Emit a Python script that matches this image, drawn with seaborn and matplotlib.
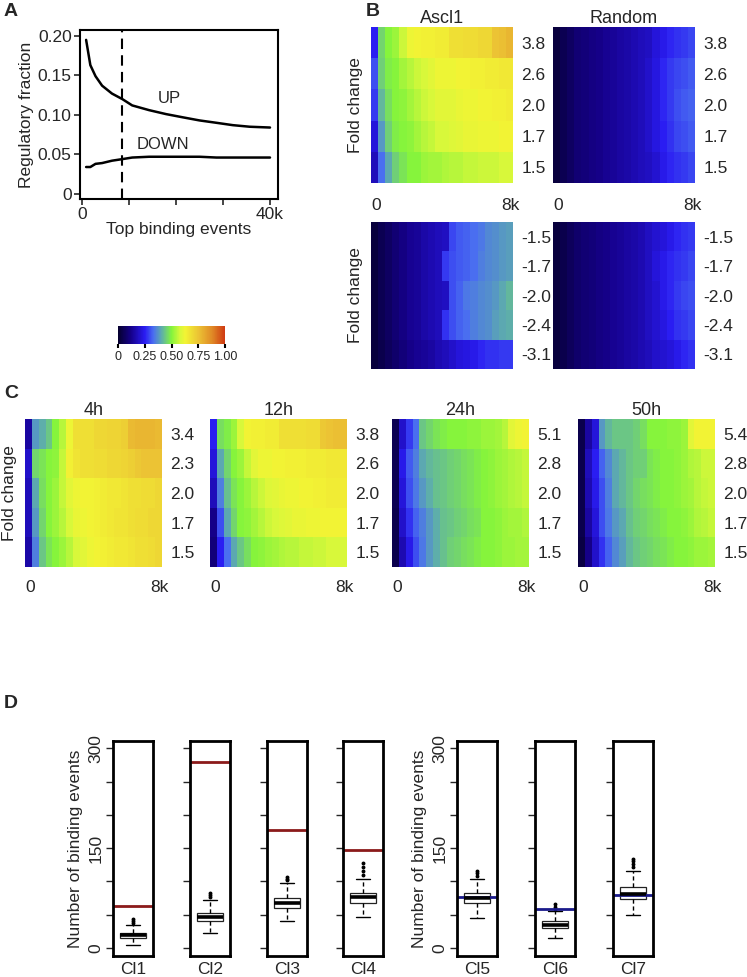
import numpy as np
import matplotlib
matplotlib.use('Agg')
import matplotlib.pyplot as plt
import seaborn as sns
from matplotlib.colors import LinearSegmentedColormap, Normalize

sns.set_style('white')
plt.rcParams['font.family'] = ['Liberation Sans', 'DejaVu Sans']

# ---------------- data ----------------
# panel A: regulatory fraction vs number of top binding events (k)
TOP_K = [0.9, 1.8, 2.9, 4.3, 6.4, 8.6, 10.7, 14.3, 17.9, 21.4, 25.0, 28.6, 32.1, 35.7, 40.0]
UP_FRAC = [0.195, 0.163, 0.149, 0.137, 0.127, 0.120, 0.112, 0.106, 0.101, 0.097,
           0.093, 0.090, 0.087, 0.085, 0.084]
DOWN_FRAC = [0.034, 0.034, 0.038, 0.039, 0.042, 0.044, 0.046, 0.047, 0.047, 0.047,
             0.047, 0.046, 0.046, 0.046, 0.046]
CUTOFF_K = 8.5

# panel B heatmaps (rows = fold-change bins, cols = top 0..8k binding events)
UP_ROWS = ['3.8', '2.6', '2.0', '1.7', '1.5']
DOWN_ROWS = ['-1.5', '-1.7', '-2.0', '-2.4', '-3.1']
ASCL1_UP = [
    [.25, .46, .50, .52, .57, .62, .63, .64, .64, .65, .65, .68, .68, .69, .69, .70, .70, .75, .76, .78],
    [.30, .45, .49, .50, .53, .55, .57, .58, .60, .62, .62, .62, .63, .63, .64, .64, .65, .65, .66, .66],
    [.28, .42, .47, .50, .51, .53, .55, .57, .58, .60, .60, .60, .61, .62, .62, .63, .63, .64, .64, .65],
    [.22, .38, .45, .49, .50, .51, .53, .55, .56, .58, .58, .59, .60, .61, .61, .62, .62, .62, .63, .63],
    [.18, .33, .40, .45, .48, .50, .50, .52, .53, .53, .54, .55, .55, .56, .56, .57, .57, .57, .58, .58],
]
RANDOM_UP = [
    [.02, .05, .07, .09, .10, .11, .12, .13, .14, .15, .16, .17, .18, .19, .22, .24, .26, .27, .28, .29],
    [.02, .05, .07, .09, .10, .11, .12, .13, .14, .15, .16, .17, .18, .20, .23, .26, .28, .29, .30, .31],
    [.02, .05, .07, .09, .10, .11, .12, .13, .14, .15, .16, .17, .18, .20, .23, .26, .28, .30, .31, .32],
    [.02, .05, .07, .09, .10, .11, .12, .13, .14, .15, .16, .17, .18, .20, .23, .25, .27, .29, .30, .31],
    [.02, .05, .07, .09, .10, .11, .12, .13, .14, .15, .16, .17, .18, .19, .21, .24, .26, .27, .28, .29],
]
ASCL1_DOWN = [
    [.02, .05, .07, .09, .11, .13, .14, .16, .17, .18, .19, .29, .31, .32, .33, .34, .36, .37, .38, .39],
    [.02, .05, .07, .09, .11, .13, .14, .16, .17, .18, .28, .30, .31, .32, .33, .35, .36, .37, .38, .39],
    [.02, .05, .07, .09, .11, .13, .14, .16, .17, .18, .19, .30, .32, .34, .35, .36, .37, .38, .40, .42],
    [.02, .05, .07, .09, .11, .13, .14, .16, .17, .18, .27, .30, .32, .33, .35, .36, .37, .39, .40, .41],
    [.02, .04, .06, .08, .10, .12, .13, .14, .15, .17, .18, .20, .22, .23, .24, .26, .27, .27, .28, .28],
]
RANDOM_DOWN = [
    [.02, .04, .06, .08, .09, .10, .11, .12, .13, .14, .15, .16, .17, .19, .21, .22, .24, .26, .27, .28],
    [.02, .04, .06, .08, .09, .10, .11, .12, .13, .14, .15, .16, .17, .19, .22, .24, .26, .27, .28, .29],
    [.02, .04, .06, .08, .09, .10, .11, .12, .13, .14, .15, .16, .17, .19, .21, .24, .26, .28, .29, .30],
    [.02, .04, .06, .08, .09, .10, .11, .12, .13, .14, .15, .16, .17, .19, .21, .23, .25, .27, .28, .29],
    [.02, .04, .06, .08, .09, .10, .11, .12, .13, .14, .15, .16, .17, .18, .20, .21, .22, .24, .26, .27],
]

# panel C: time course
TIMES = ['4h', '12h', '24h', '50h']
TIME_ROWS = [
    ['3.4', '2.3', '2.0', '1.7', '1.5'],
    ['3.8', '2.6', '2.0', '1.7', '1.5'],
    ['5.1', '2.8', '2.0', '1.7', '1.5'],
    ['5.4', '2.8', '2.0', '1.7', '1.5'],
]
H4 = [
    [.15, .38, .41, .44, .50, .55, .62, .68, .68, .68, .70, .70, .71, .71, .72, .77, .78, .78, .78, .77],
    [.20, .46, .48, .50, .51, .56, .64, .67, .68, .68, .69, .69, .70, .70, .71, .72, .74, .75, .75, .75],
    [.18, .40, .47, .50, .52, .56, .60, .62, .63, .63, .64, .65, .66, .66, .67, .68, .68, .69, .69, .70],
    [.18, .38, .46, .50, .52, .55, .58, .61, .62, .63, .64, .65, .66, .67, .67, .68, .69, .69, .70, .70],
    [.16, .35, .44, .48, .50, .52, .55, .58, .60, .62, .63, .64, .65, .66, .66, .67, .68, .68, .69, .70],
]
H12 = [
    [.25, .47, .49, .52, .58, .63, .64, .64, .65, .65, .68, .68, .68, .68, .69, .69, .74, .75, .76, .76],
    [.22, .40, .46, .50, .52, .56, .60, .62, .62, .63, .63, .64, .64, .64, .65, .65, .65, .66, .66, .66],
    [.18, .35, .43, .48, .50, .52, .55, .57, .59, .60, .61, .62, .62, .63, .63, .64, .64, .65, .65, .65],
    [.12, .30, .40, .46, .50, .51, .53, .55, .57, .58, .59, .60, .61, .61, .62, .62, .63, .63, .63, .63],
    [.10, .25, .33, .40, .44, .47, .50, .51, .52, .53, .54, .55, .55, .56, .56, .57, .57, .58, .58, .58],
]
H24 = [
    [.05, .20, .28, .33, .44, .46, .48, .49, .50, .50, .50, .51, .51, .52, .52, .53, .55, .60, .62, .63],
    [.05, .24, .31, .35, .40, .42, .43, .44, .45, .46, .47, .48, .49, .50, .51, .52, .53, .54, .55, .56],
    [.05, .22, .30, .34, .38, .41, .43, .44, .45, .46, .47, .48, .49, .50, .51, .52, .53, .54, .55, .56],
    [.04, .20, .27, .32, .35, .38, .41, .43, .44, .45, .46, .47, .48, .50, .50, .51, .52, .53, .53, .54],
    [.04, .17, .24, .30, .34, .38, .41, .43, .45, .46, .47, .48, .49, .50, .50, .51, .52, .52, .53, .53],
]
H50 = [
    [.04, .15, .22, .38, .42, .44, .44, .44, .45, .47, .50, .50, .50, .51, .51, .52, .60, .63, .63, .63],
    [.04, .18, .25, .32, .36, .40, .42, .44, .45, .45, .48, .49, .50, .50, .51, .52, .54, .55, .57, .57],
    [.04, .17, .24, .30, .35, .40, .42, .44, .46, .47, .48, .49, .50, .50, .51, .52, .53, .55, .56, .57],
    [.04, .15, .22, .30, .34, .38, .40, .43, .45, .46, .47, .48, .49, .50, .50, .51, .52, .54, .55, .56],
    [.03, .12, .20, .27, .32, .36, .39, .42, .44, .45, .46, .47, .48, .49, .50, .50, .51, .52, .52, .53],
]

# panel D: random-set counts per cluster and the observed count
CLUSTERS = ['Cl1', 'Cl2', 'Cl3', 'Cl4', 'Cl5', 'Cl6', 'Cl7']
CL_RANDOM = [
    [4, 8, 11, 13, 14, 15, 16, 17, 18, 18, 19, 20, 20, 21, 22, 23, 26, 35, 38, 41, 44],
    [22, 30, 34, 37, 39, 40, 42, 43, 44, 45, 46, 47, 49, 50, 52, 53, 58, 72, 76, 80, 83],
    [41, 48, 53, 56, 58, 60, 62, 64, 65, 67, 68, 69, 70, 72, 73, 75, 80, 97, 102, 104, 106],
    [46, 55, 60, 63, 66, 68, 70, 72, 74, 75, 76, 77, 78, 80, 81, 83, 104, 110, 116, 122, 128],
    [45, 54, 59, 62, 65, 67, 69, 71, 72, 74, 75, 76, 77, 79, 80, 82, 88, 104, 108, 112, 115],
    [15, 21, 24, 27, 29, 30, 31, 32, 33, 34, 35, 36, 37, 38, 40, 41, 45, 55, 59, 62, 66],
    [50, 59, 64, 68, 71, 74, 76, 77, 79, 80, 81, 83, 85, 87, 89, 91, 116, 122, 126, 130, 134],
]
CL_OBSERVED = [63, 279, 178, 147, 76, 59, 80]
CL_COLORS = ['#8b1a1a'] * 4 + ['#1a1a8b'] * 3

CMAP = LinearSegmentedColormap.from_list('heat', [
    (0.0, '#05002e'), (0.12, '#15008a'), (0.25, '#2a1cf2'), (0.33, '#4a6ff0'),
    (0.41, '#5fb0a8'), (0.5, '#84f43c'), (0.58, '#d8f83a'), (0.63, '#f2f434'),
    (0.75, '#ecc434'), (0.88, '#e08a26'), (1.0, '#cf3a12')])

TICK_FS = 12.5
LABEL_FS = 12.5

W, H = 747, 977
fig = plt.figure(figsize=(W / 100, H / 100), dpi=100)


def px_axes(x0, y0, x1, y1):
    return fig.add_axes([x0 / W, 1 - y1 / H, (x1 - x0) / W, (y1 - y0) / H])


def letter(x, y, s):
    fig.text(x / W, 1 - y / H, s, fontsize=14, fontweight='bold', va='center', ha='left')


def draw_heat(rect, data, rows, title=None, ylabel=False, xlabels=False, xpad=11):
    ax = px_axes(*rect)
    sns.heatmap(np.array(data), ax=ax, cmap=CMAP, vmin=0, vmax=1, cbar=False,
                xticklabels=False, yticklabels=False)
    ax.yaxis.tick_right()
    ax.set_yticks(np.arange(len(rows)) + 0.5)
    ax.set_yticklabels(rows, rotation=0, fontsize=TICK_FS)
    ax.tick_params(axis='y', length=0, pad=6)
    ax.yaxis.set_label_position('left')
    if ylabel:
        ax.set_ylabel('Fold change', fontsize=LABEL_FS, labelpad=6)
    if title:
        ax.set_title(title, fontsize=13, pad=3)
    if xlabels:
        ax.set_xticks([0.8, 19.6])
        ax.set_xticklabels(['0', '8k'], rotation=0, fontsize=TICK_FS)
        ax.tick_params(axis='x', length=0, pad=xpad)
    return ax


# ---------------- panel A ----------------
ax = px_axes(80, 30, 278, 199)
sns.lineplot(x=TOP_K, y=UP_FRAC, ax=ax, color='black', lw=1.8)
sns.lineplot(x=TOP_K, y=DOWN_FRAC, ax=ax, color='black', lw=1.8)
ax.axvline(CUTOFF_K, color='black', lw=1.5, dashes=(5, 3))
ax.text(18.6, 0.121, 'UP', fontsize=12, ha='center', va='center')
ax.text(17.2, 0.062, 'DOWN', fontsize=12, ha='center', va='center')
ax.set_xlim(-0.4, 41.7)
ax.set_ylim(-0.0065, 0.2075)
ax.set_xticks([0, 10, 20, 30, 40])
ax.set_xticklabels(['0', '', '', '', '40k'])
ax.set_yticks([0, 0.05, 0.10, 0.15, 0.20])
ax.set_yticklabels(['0', '0.05', '0.10', '0.15', '0.20'])
ax.tick_params(direction='out', length=4, width=1.2, labelsize=TICK_FS, left=True,
               bottom=True, pad=2)
ax.set_xlabel('Top binding events', fontsize=LABEL_FS, labelpad=0)
ax.set_ylabel('Regulatory fraction', fontsize=LABEL_FS, labelpad=3)
for sp in ax.spines.values():
    sp.set_color('black')
    sp.set_linewidth(1.5)
letter(4, 12, 'A')

# colorbar
cax = px_axes(118, 326, 225, 344)
sm = plt.cm.ScalarMappable(cmap=CMAP, norm=Normalize(0, 1))
cb = fig.colorbar(sm, cax=cax, orientation='horizontal', ticks=[0, 0.25, 0.5, 0.75, 1.0])
cb.ax.set_xticklabels(['0', '0.25', '0.50', '0.75', '1.00'])
cb.ax.tick_params(labelsize=9, length=3, width=1.5, color='black', pad=2)
cb.outline.set_visible(False)

# ---------------- panel B ----------------
letter(366, 12, 'B')
draw_heat((371, 27, 513, 183), ASCL1_UP, UP_ROWS, title='Ascl1', ylabel=True, xlabels=True)
draw_heat((553, 27, 695, 183), RANDOM_UP, UP_ROWS, title='Random', xlabels=True)
draw_heat((371, 222, 513, 369), ASCL1_DOWN, DOWN_ROWS, ylabel=True)
draw_heat((553, 222, 695, 369), RANDOM_DOWN, DOWN_ROWS)

# ---------------- panel C ----------------
letter(4, 393, 'C')
for i, (t, rows, dat, x0) in enumerate(zip(TIMES, TIME_ROWS, [H4, H12, H24, H50],
                                           [25, 210, 392, 578])):
    draw_heat((x0, 419, x0 + 137, 567), dat, rows, title=t, ylabel=(i == 0),
              xlabels=True, xpad=9)

# ---------------- panel D ----------------
letter(4, 703, 'D')
CL_X = [113, 190, 267, 343, 457, 535, 613]
for i, (name, vals, obs, col, x0) in enumerate(zip(CLUSTERS, CL_RANDOM, CL_OBSERVED,
                                                   CL_COLORS, CL_X)):
    ax = px_axes(x0, 741, x0 + 40, 956)
    sns.boxplot(y=vals, ax=ax, color='white', linecolor='#222222', linewidth=0.9,
                width=0.8, fliersize=2,
                medianprops={'linewidth': 2.6, 'color': 'black'},
                whiskerprops={'linestyle': (0, (3, 2)), 'linewidth': 1, 'color': 'black'},
                capprops={'linewidth': 1, 'color': 'black'},
                flierprops={'marker': 'o', 'markersize': 1.8, 'markerfacecolor': 'black',
                            'markeredgecolor': 'black'})
    ax.axhline(obs, color=col, lw=2)
    ax.set_xlim(-0.6, 0.6)
    ax.set_ylim(-12, 311)
    ax.set_xticks([0])
    ax.set_xticklabels([name], fontsize=TICK_FS)
    ax.tick_params(axis='x', length=0, pad=4)
    ax.set_yticks([0, 50, 100, 150, 200, 250, 300])
    ax.tick_params(axis='y', direction='out', length=5, width=1, left=True, pad=2)
    if i in (0, 4):
        ax.set_yticklabels(['0', '', '', '150', '', '', '300'], fontsize=TICK_FS,
                           rotation=90, va='center')
        ax.set_ylabel('Number of binding events', fontsize=LABEL_FS, labelpad=4)
    else:
        ax.set_yticklabels([])
        ax.set_ylabel('')
    for sp in ax.spines.values():
        sp.set_color('black')
        sp.set_linewidth(2)

fig.savefig('out.png', dpi=100)
